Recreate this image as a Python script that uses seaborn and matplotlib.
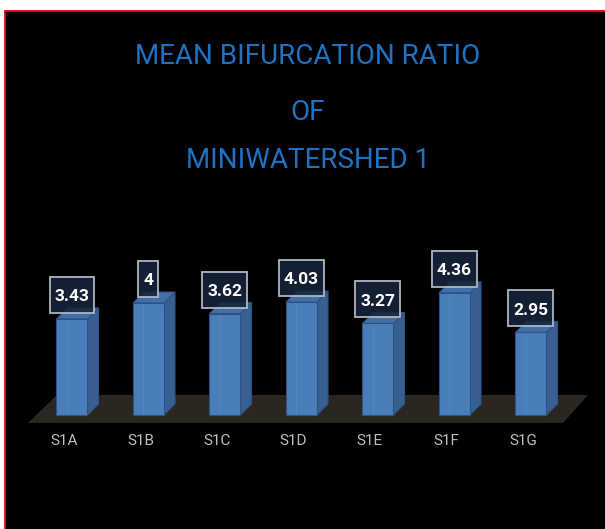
import matplotlib
matplotlib.use("Agg")
import matplotlib.pyplot as plt
import seaborn as sns
import pandas as pd
from matplotlib.patches import Polygon, Rectangle

categories = ["S1A", "S1B", "S1C", "S1D", "S1E", "S1F", "S1G"]
values = [3.43, 4, 3.62, 4.03, 3.27, 4.36, 2.95]
value_labels = ["3.43", "4", "3.62", "4.03", "3.27", "4.36", "2.95"]
title_lines = ["MEAN BIFURCATION RATIO", "OF", "MINIWATERSHED 1"]

W_PX, H_PX, DPI = 605, 529, 100
STEP_PX = 76.5      # horizontal pixels between neighbouring bars
UNIT_PX = 28.0      # vertical pixels per unit of value
X0_PX, Y0_PX = 72, 415   # pixel position of the first bar centre / baseline

FRONT = "#4a7ebb"
SIDE = "#375f91"
TOP = "#416fa8"
EDGE = "#2e5282"
FLOOR = "#2b2720"
TITLE_BLUE = "#1f72c2"
LABEL_SIZE = 12.5

sns.set_theme(style="dark")
plt.rcParams["font.family"] = ["Roboto", "DejaVu Sans"]

fig = plt.figure(figsize=(W_PX / DPI, H_PX / DPI), dpi=DPI, facecolor="white")

# black slide panel with a thin red frame on top and left
fig.patches.append(Rectangle((5 / W_PX, -0.05), 1.2, 1.05 - 11 / H_PX,
                             transform=fig.transFigure, facecolor="black",
                             edgecolor="#e8000b", linewidth=1.3, zorder=-10))

ax = fig.add_axes([0, 0, 1, 1])
ax.set_facecolor("none")
ax.set_zorder(1)


def xd(px):
    return (px - X0_PX) / STEP_PX


def yd(py):
    return (Y0_PX - py) / UNIT_PX


df = pd.DataFrame({"category": categories, "value": values})
sns.barplot(data=df, x="category", y="value", ax=ax, color=FRONT,
            saturation=1, width=31 / STEP_PX, edgecolor=EDGE, linewidth=0.8,
            zorder=3)

ax.set_xlim(xd(0), xd(W_PX))
ax.set_ylim(yd(H_PX), yd(0))
ax.axis("off")

# floor plane under the bars
floor = Polygon([(xd(28), yd(423)), (xd(563), yd(423)),
                 (xd(588), yd(395)), (xd(57), yd(395))],
                closed=True, facecolor=FLOOR, edgecolor="none", zorder=1)
ax.add_patch(floor)

dx = 11 / STEP_PX
dy = 11 / UNIT_PX
cap_px = 0.711 * LABEL_SIZE * DPI / 72
label_texts = []
for i, p in enumerate(ax.containers[0]):
    x0, w, h = p.get_x(), p.get_width(), p.get_height()
    side = Polygon([(x0 + w, 0), (x0 + w + dx, dy), (x0 + w + dx, h + dy), (x0 + w, h)],
                   closed=True, facecolor=SIDE, edgecolor=EDGE, linewidth=0.8, zorder=2.9)
    top = Polygon([(x0, h), (x0 + w, h), (x0 + w + dx, h + dy), (x0 + dx, h + dy)],
                  closed=True, facecolor=TOP, edgecolor=EDGE, linewidth=0.8, zorder=2.9)
    ax.add_patch(side)
    ax.add_patch(top)
    # faint highlight line on the front face
    ax.plot([x0 + w * 0.33, x0 + w * 0.33], [0.05, h - 0.05], color="#5a8cc8",
            linewidth=0.8, alpha=0.6, zorder=3.5)
    cy = h + 24 / UNIT_PX
    t = ax.text(x0 + w / 2, cy - (cap_px / 2) / UNIT_PX, value_labels[i],
                ha="center", va="baseline", color="white", fontsize=LABEL_SIZE,
                fontweight="bold", zorder=6)
    label_texts.append((t, x0 + w / 2, cy))

# boxes around the value labels, sized from the rendered text
fig.canvas.draw()
renderer = fig.canvas.get_renderer()
for t, cx, cy in label_texts:
    wpx = t.get_window_extent(renderer).width + 10
    bw = wpx / STEP_PX
    bh = 36 / UNIT_PX
    ax.add_patch(Rectangle((cx - bw / 2, cy - bh / 2), bw, bh,
                           facecolor="#16253b", alpha=0.88, edgecolor="none", zorder=5))
    ax.add_patch(Rectangle((cx - bw / 2, cy - bh / 2), bw, bh,
                           facecolor="none", edgecolor="#aeb6bf", linewidth=1.3, zorder=5.5))

for i, cat in enumerate(categories):
    ax.text(i - 8 / STEP_PX, yd(441), cat, ha="center", va="center",
            color="#bfbfbf", fontsize=11, zorder=5)

title_y = [57, 112, 160]
for line, ty in zip(title_lines, title_y):
    fig.text(308 / W_PX, 1 - ty / H_PX, line, ha="center", va="center",
             color=TITLE_BLUE, fontsize=20)

fig.savefig("out.png", dpi=DPI, facecolor=fig.get_facecolor())
